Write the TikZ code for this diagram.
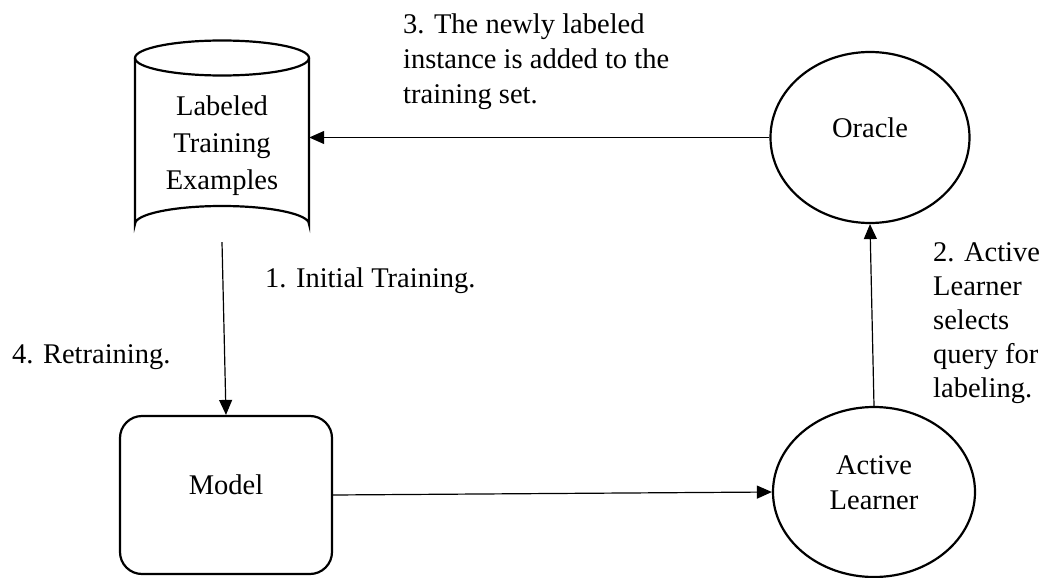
\documentclass[tikz,border=0pt]{standalone}
\usepackage{fontspec}
\setmainfont{Liberation Serif}
\usetikzlibrary{arrows.meta,shapes.geometric}
\begin{document}
\begin{tikzpicture}[x=1pt,y=-1pt,
  txt/.style={font=\fontsize{28.5}{35}\selectfont},
  shapeline/.style={line width=2.2pt},
  flow/.style={line width=1.2pt,-{Triangle[length=15pt,width=13pt]}},
  lbl/.style={txt,anchor=base west,inner sep=0pt,align=left}]
\useasboundingbox (0,0) rectangle (1045,578);

% data store drawn as a cylinder around an invisible anchor box
\node[minimum width=174pt,minimum height=202pt,inner sep=0pt] (cyl) at (222,141) {};
\draw[shapeline] (135,58) -- (135,224) arc[start angle=180,end angle=360,x radius=87,y radius=18]
  -- (309,58);
\draw[shapeline] (222,58) ellipse[x radius=87,y radius=17.5];
\node[txt,align=center,font=\fontsize{28.5}{37}\selectfont] at (222,146) {Labeled\\Training\\Examples};

% model box
\node[draw,shapeline,rounded corners=22pt,minimum width=212pt,minimum height=158pt] (model) at (226,495) {};
\node[txt] at (226,485) {Model};

% oracle and active learner
\node[draw,shapeline,ellipse,minimum width=199pt,minimum height=171pt,inner sep=0pt] (oracle) at (870,137.5) {};
\node[txt] at (870,128) {Oracle};
\node[draw,shapeline,ellipse,minimum width=202pt,minimum height=170pt,inner sep=0pt] (learner) at (874,492) {};
\node[txt,align=center] at (874,483) {Active\\Learner};

% connectors
\draw[flow] (cyl.south) -- (model.north);
\draw[flow] (model.east) -- (learner.west);
\draw[flow] (learner.north) -- (oracle.south);
\draw[flow] (oracle.west) -- (oracle.west -| cyl.east);

% step labels (multi-line labels are placed by their last baseline)
\node[lbl] (l3) at (403,103) {3. The newly labeled\\instance is added to the\\training set.};
\node[lbl] (l1) at (265,287) {1. Initial Training.};
\node[lbl] (l4) at (12,363) {4. Retraining.};
\node[lbl,font=\fontsize{28.5}{34}\selectfont] (l2) at (933,397) {2. Active\\Learner\\selects\\query for\\labeling.};
\end{tikzpicture}
\end{document}
